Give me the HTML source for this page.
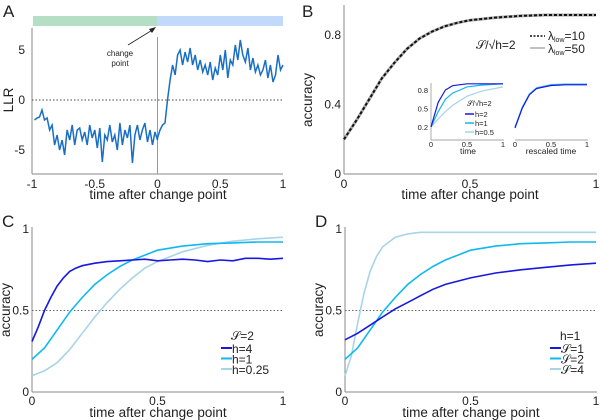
<!DOCTYPE html>
<html><head><meta charset="utf-8"><style>
body{margin:0;background:#fff}
svg{display:block;font-family:"Liberation Sans","DejaVu Sans",sans-serif}
</style></head><body>
<svg id="fig" width="600" height="420" viewBox="0 0 600 420">
<g id="A"></g>
<g id="B"></g>
<g id="C"></g>
<g id="D"></g>
</svg>
<script>
// ---- data ----
const llrPre = [-2,-1.8,-1.7,-1,-2,-1.8,-3,-2.5,-4.5,-3.5,-5,-4,-5.5,-3,-4,-2.5,-4.5,-3,-2.8,-4,-3.2,-4.5,-2.5,-3.8,-3,-4.8,-2.8,-6.2,-3.5,-4,-2.5,-4.2,-3.5,-5,-2.3,-4.5,-3,-3.8,-2.5,-6.3,-3.5,-2.5,-4,-3,-2.3,-4.2,-3,-4.5,-3.2,-4];
const llrPost = [-3.8,-3,-2.5,-2.3,0,2,3.5,2.5,4.5,5,3.5,4.8,3.8,5.2,3.5,4.5,3,4,2.8,3.5,2.5,3.8,2,3.2,2.5,4.5,3,5,2.2,4,3.5,5.5,4,6,4.5,3.8,5.2,3,4.2,2.8,3.5,2.5,3,4,2.2,3.5,1.8,2.5,4.5,3,3.5];
const bX = [0,.05,.1,.15,.2,.25,.3,.35,.4,.45,.5,.6,.7,.8,1];
const bY = [.2,.31,.43,.55,.64,.72,.78,.82,.85,.87,.885,.9,.91,.915,.915];
const inX = [0,.1,.2,.3,.5,.7,1];
const inH2 = [.2,.6,.8,.87,.9,.9,.9];
const inH1 = [.2,.45,.65,.75,.85,.88,.9];
const inH05 = [.2,.33,.45,.55,.7,.78,.85];
const inResc = [.2,.52,.74,.84,.89,.9,.9];
const cX4 = [0,.025,.05,.075,.1,.125,.15,.175,.2,.25,.3,.35,.4,.45,.5,.55,.6,.65,.7,.75,.8,.85,.9,.95,1];
const cH4 = [.31,.40,.50,.58,.65,.70,.74,.76,.775,.79,.80,.805,.81,.815,.805,.81,.815,.81,.80,.81,.805,.82,.82,.815,.82];
const cX = [0,.05,.1,.15,.2,.25,.3,.35,.4,.45,.5,.6,.7,.8,.9,1];
const cH1 = [.2,.27,.38,.49,.58,.66,.72,.77,.81,.84,.87,.895,.91,.915,.92,.92];
const cH025 = [.1,.13,.18,.26,.36,.46,.55,.63,.70,.76,.80,.86,.90,.925,.94,.95];
const dX1 = [0,.05,.1,.15,.2,.25,.3,.35,.4,.5,.6,.7,.8,.9,1];
const dS1 = [.32,.36,.41,.46,.51,.55,.59,.63,.66,.70,.73,.75,.765,.78,.79];
const dX4 = [0,.025,.05,.075,.1,.125,.15,.2,.25,.3,.5,1];
const dS4 = [.1,.22,.42,.60,.74,.83,.89,.95,.97,.98,.98,.98];
const tickA = ["-1","-0.5","0","0.5","1"];

const NS="http://www.w3.org/2000/svg";
function mk(p,tag,at,txt){const e=document.createElementNS(NS,tag);for(const k in at)e.setAttribute(k,at[k]);if(txt!==undefined)e.textContent=txt;p.appendChild(e);return e;}
function sc(d0,d1,r0,r1){return v=>r0+(v-d0)/(d1-d0)*(r1-r0);}
function path(xs,ys,sx,sy){return xs.map((x,i)=>(i?'L':'M')+sx(x).toFixed(1)+','+sy(ys[i]).toFixed(1)).join('');}
const G="#888",T="#222",TF=12,AF=13.5;

// ---- Panel A ----
(function(){
const g=document.getElementById('A');
const sx=sc(-1,1,32,283), sy=sc(-5,5,150,50);
let e=mk(g,'text',{x:3,y:17,'font-size':17,fill:T},'A');

e=mk(g,'rect',{x:33,y:16,width:124,height:10,fill:'#b5dfc4'});

e=mk(g,'rect',{x:157,y:16,width:126,height:10,fill:'#c2d9fb'});

mk(g,'line',{x1:32,y1:28,x2:32,y2:174,stroke:G});
mk(g,'line',{x1:32,y1:174,x2:283,y2:174,stroke:G});
mk(g,'line',{x1:sx(0),y1:37,x2:sx(0),y2:174,stroke:'#999'});
mk(g,'line',{x1:32,y1:sy(0),x2:283,y2:sy(0),stroke:'#444','stroke-dasharray':'1.5,2'});
[5,0,-5].forEach(v=>{mk(g,'text',{x:25,y:sy(v)+4,'font-size':TF,'text-anchor':'end',fill:T},String(v));});
[-1,-0.5,0,0.5,1].forEach((v,i)=>{mk(g,'text',{x:sx(v),y:188,'font-size':TF,'text-anchor':'middle',fill:T},tickA[i]);});
e=mk(g,'text',{x:0,y:0,'font-size':AF,'text-anchor':'middle',fill:T,transform:'translate(13,100) rotate(-90)'},'LLR');

e=mk(g,'text',{x:158,y:199,'font-size':AF,'text-anchor':'middle',fill:T},'time after change point');

mk(g,'text',{x:120,y:56,'font-size':8,'text-anchor':'middle',fill:T},'change');
mk(g,'text',{x:120,y:66,'font-size':8,'text-anchor':'middle',fill:T},'point');
mk(g,'line',{x1:128,y1:45,x2:154,y2:29,stroke:'#222','stroke-width':0.8});
mk(g,'path',{d:'M156,27 L149,29 L152,33 Z',fill:'#222'});
const vals=llrPre.concat(llrPost), xs=vals.map((v,i)=>i<llrPre.length?-0.98+0.02*i:0.02*(i-llrPre.length));
e=mk(g,'path',{d:path(xs,vals,sx,sy),fill:'none',stroke:'#1a6fc4','stroke-width':1.5});

})();

// ---- Panel B ----
(function(){
const g=document.getElementById('B');
const sx=sc(0,1,344,596), sy=sc(0,0.8,174,35);
let e=mk(g,'text',{x:302,y:17,'font-size':17,fill:T},'B');

mk(g,'line',{x1:344,y1:5,x2:344,y2:174,stroke:G});
mk(g,'line',{x1:344,y1:174,x2:597,y2:174,stroke:G});
[[0,'0'],[0.4,'0.4'],[0.8,'0.8']].forEach(t=>mk(g,'text',{x:341,y:sy(t[0])+4,'font-size':TF,'text-anchor':'end',fill:T},t[1]));
[[0,'0'],[0.5,'0.5'],[1,'1']].forEach(t=>mk(g,'text',{x:sx(t[0]),y:188,'font-size':TF,'text-anchor':'middle',fill:T},t[1]));
e=mk(g,'text',{x:0,y:0,'font-size':AF,'text-anchor':'middle',fill:T,transform:'translate(312,100) rotate(-90)'},'accuracy');

e=mk(g,'text',{x:470,y:199,'font-size':AF,'text-anchor':'middle',fill:T},'time after change point');

e=mk(g,'path',{d:path(bX,bY,sx,sy),fill:'none',stroke:'#aaa','stroke-width':3});

e=mk(g,'path',{d:path(bX,bY,sx,sy),fill:'none',stroke:'#111','stroke-width':2,'stroke-dasharray':'3,2'});

mk(g,'text',{x:476,y:49,'font-size':12,fill:T},'𝒮/√h=2');
mk(g,'line',{x1:530,y1:36,x2:545,y2:36,stroke:'#111','stroke-width':1.5,'stroke-dasharray':'2,1.5'});
mk(g,'line',{x1:530,y1:48,x2:545,y2:48,stroke:'#aaa','stroke-width':1.5});
const l1=mk(g,'text',{x:548,y:40,'font-size':12,fill:T});l1.innerHTML='λ<tspan font-size="7" dy="2">low</tspan><tspan dy="-2">=10</tspan>';
const l2=mk(g,'text',{x:548,y:53,'font-size':12,fill:T});l2.innerHTML='λ<tspan font-size="7" dy="2">low</tspan><tspan dy="-2">=50</tspan>';
// inset 1
const ix=sc(0,1,431,503), iy=sc(0.2,0.8,127,90);
mk(g,'line',{x1:431,y1:83,x2:431,y2:140,stroke:G,'stroke-width':0.7});
mk(g,'line',{x1:431,y1:140,x2:504,y2:140,stroke:G,'stroke-width':0.7});
[[0.2,'0.2'],[0.5,'0.5'],[0.8,'0.8']].forEach(t=>mk(g,'text',{x:428,y:iy(t[0])+3,'font-size':7.5,'text-anchor':'end',fill:T},t[1]));
[[0,'0'],[0.5,'0.5'],[1,'1']].forEach(t=>mk(g,'text',{x:ix(t[0]),y:147,'font-size':7.5,'text-anchor':'middle',fill:T},t[1]));
mk(g,'text',{x:468,y:154,'font-size':8.5,'text-anchor':'middle',fill:T},'time');
[[inH05,'#a8d4e8','inset-h-0.5'],[inH1,'#10b8f0','inset-h-1'],[inH2,'#1818e0','inset-h-2']].forEach(s=>{
 const p=mk(g,'path',{d:path(inX,s[0],ix,iy),fill:'none',stroke:s[1],'stroke-width':1.2});
 });
mk(g,'text',{x:467,y:106,'font-size':7.5,fill:T},'𝒮/√h=2');
[['h=2','#1818e0',116],['h=1','#10b8f0',125],['h=0.5','#a8d4e8',134]].forEach(s=>{
 mk(g,'line',{x1:465,y1:s[2]-2,x2:474,y2:s[2]-2,stroke:s[1],'stroke-width':1.5});
 mk(g,'text',{x:475,y:s[2]+1,'font-size':7.5,fill:T},s[0]);});
// inset 2
const jx=sc(0,1,515,587);
mk(g,'line',{x1:515,y1:140,x2:588,y2:140,stroke:G,'stroke-width':0.7});
[[0,'0'],[0.5,'0.5'],[1,'1']].forEach(t=>mk(g,'text',{x:jx(t[0]),y:147,'font-size':7.5,'text-anchor':'middle',fill:T},t[1]));
mk(g,'text',{x:551,y:154,'font-size':8.5,'text-anchor':'middle',fill:T},'rescaled time');
[['#a8d4e8'],['#10b8f0'],['#1818e0']].forEach((s,i)=>{
 const p=mk(g,'path',{d:path(inX,inResc,jx,iy),fill:'none',stroke:s[0],'stroke-width':1.2,transform:'translate(0,'+(i*0.5)+')'});
 });
})();

// ---- Panels C & D ----
function accPanel(id,x0,letter,series,legTitle,legX){
const g=document.getElementById(id);
const sx=sc(0,1,x0,x0+251), sy=sc(0,1,392,229);
let e=mk(g,'text',{x:x0-30,y:227,'font-size':17,fill:T},letter);

mk(g,'line',{x1:x0,y1:227,x2:x0,y2:392,stroke:G});
mk(g,'line',{x1:x0,y1:392,x2:x0+252,y2:392,stroke:G});
mk(g,'line',{x1:x0,y1:sy(0.5),x2:x0+251,y2:sy(0.5),stroke:'#666','stroke-dasharray':'1.5,2'});
[[0,'0'],[0.5,'0.5'],[1,'1']].forEach(t=>mk(g,'text',{x:x0-3,y:sy(t[0])+4,'font-size':TF,'text-anchor':'end',fill:T},t[1]));
[[0,'0'],[0.5,'0.5'],[1,'1']].forEach(t=>mk(g,'text',{x:sx(t[0]),y:405,'font-size':TF,'text-anchor':'middle',fill:T},t[1]));
e=mk(g,'text',{x:0,y:0,'font-size':AF,'text-anchor':'middle',fill:T,transform:'translate('+(x0-22)+',310) rotate(-90)'},'accuracy');

e=mk(g,'text',{x:x0+126,y:417,'font-size':AF,'text-anchor':'middle',fill:T},'time after change point');

series.slice().reverse().forEach(s=>{const p=mk(g,'path',{d:path(s.x,s.y,sx,sy),fill:'none',stroke:s.c,'stroke-width':1.6});
 });
mk(g,'text',{x:legX+10,y:340,'font-size':12,fill:T},legTitle);
series.forEach((s,i)=>{const yy=352+i*10.5;
 mk(g,'line',{x1:legX,y1:yy-4,x2:legX+11,y2:yy-4,stroke:s.c,'stroke-width':2});
 const t=mk(g,'text',{x:legX+11,y:yy+1,'font-size':12,fill:T},s.l);
 });
}
accPanel('C',32,'C',[
 {x:cX4,y:cH4,c:'#1818e0',l:'h=4',n:'line-h-4'},
 {x:cX,y:cH1,c:'#10b8f0',l:'h=1',n:'line-h-1'},
 {x:cX,y:cH025,c:'#a8d4e8',l:'h=0.25',n:'line-h-0.25'}],'𝒮=2',221);
accPanel('D',345,'D',[
 {x:dX1,y:dS1,c:'#1818e0',l:'𝒮=1',n:'line-s-1'},
 {x:cX,y:cH1,c:'#10b8f0',l:'𝒮=2',n:'line-s-2'},
 {x:dX4,y:dS4,c:'#a8d4e8',l:'𝒮=4',n:'line-s-4'}],'h=1',550);
</script>
</body></html>
